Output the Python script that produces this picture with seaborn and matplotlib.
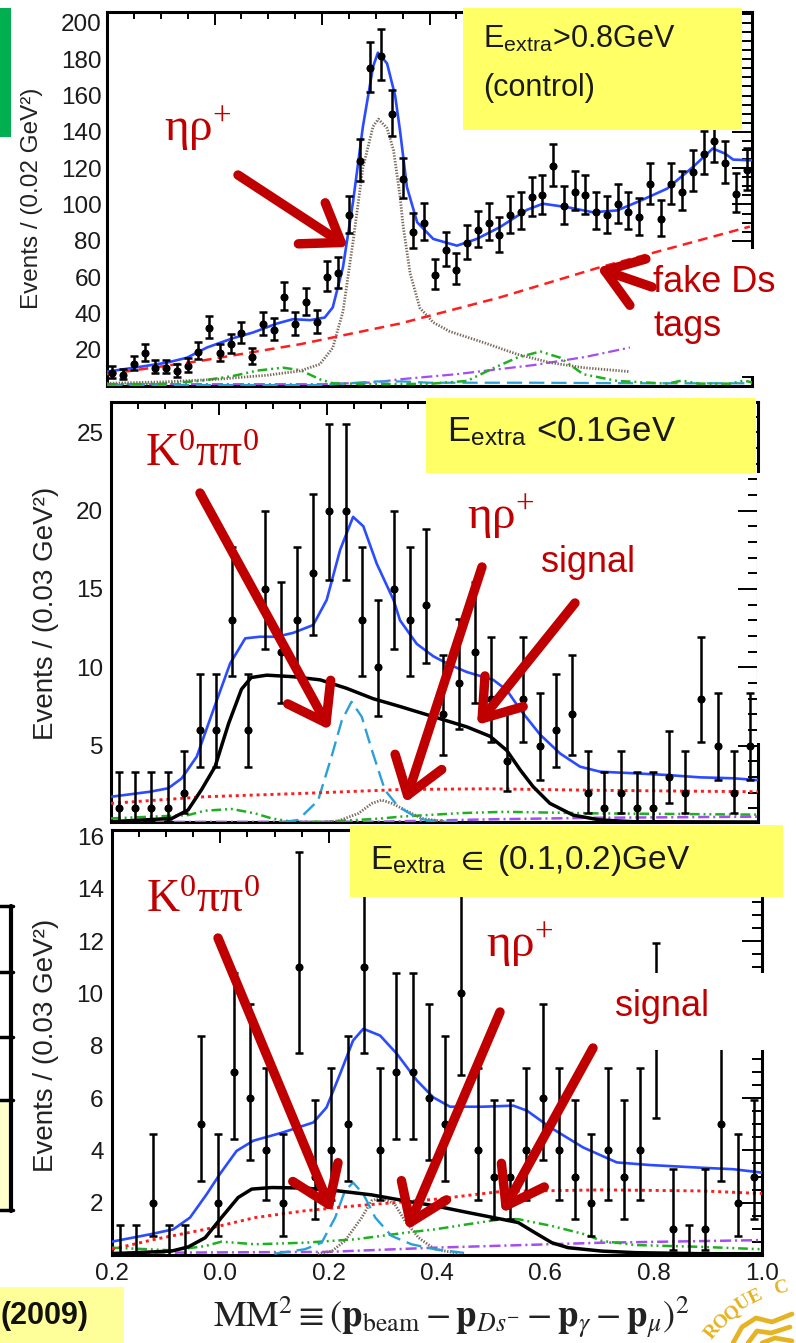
import math
import matplotlib
matplotlib.use("Agg")
import matplotlib.pyplot as plt
from matplotlib.patches import Rectangle, FancyArrowPatch
from matplotlib.lines import Line2D
from matplotlib.ticker import MultipleLocator, FixedLocator, FixedFormatter
import numpy as np
import seaborn as sns

W, H = 796, 1343
X_LO, X_HI = -0.2, 1.0

# ---------------------------------------------------------------- data
# E_extra > 0.8 GeV control sample, bins of 0.02 GeV^2
top_counts = [7, 6, 12, 18, 10, 10, 8, 11, 19, 32, 18, 23, 29, 16, 34, 31, 49, 34, 46, 35,
              60, 62, 94, 124, 175, 182, 150, 114, 85, 90, 61, 75, 64, 79, 86, 90, 83, 94,
              96, 104, 105, 121, 99, 107, 105, 96, 94, 100, 96, 93, 111, 92, 111, 107, 118,
              128, 135, 123, 106, 119]
top_bin = 0.02

# E_extra < 0.1 GeV, bins of 0.03 GeV^2
mid_counts = [1, 1, 1, 1, 2, 6, 6, 13, 6, 15, 11, 13, 16, 20, 20, 13, 10, 15, 13, 14,
              7, 9, 11, 8, 4, 8, 5, 6, 7, 2, 1, 2, 1, 1, 3, 2, 8, 5, 2, 5]
mid_bin = 0.03

# 0.1 < E_extra < 0.2 GeV, bins of 0.03 GeV^2
bot_counts = [0, 0, 2, 0, 0, 5, 2, 7, 6, 4, 2, 11, 3, 4, 5, 11, 4, 7, 7, 6,
              5, 10, 4, 3, 3, 4, 6, 4, 3, 2, 4, 3, 4, 8, 1, 0, 1, 5, 2, 3]
bot_bin = 0.03

# fit components, control sample
top_total_x = [-0.2, -0.14, -0.088, -0.051, -0.014, 0.034, 0.072, 0.116, 0.146, 0.178, 0.205,
               0.220, 0.239, 0.258, 0.276, 0.295, 0.304, 0.321, 0.336, 0.345, 0.358, 0.377,
               0.407, 0.451, 0.488, 0.531, 0.581, 0.611, 0.656, 0.704, 0.749, 0.792, 0.842,
               0.890, 0.927, 0.950, 0.965, 1.0]
top_total_y = [7.9, 10.5, 12.9, 15.6, 21.2, 26.3, 29.5, 34.4, 36.8, 36.3, 37.7,
               43.3, 65.4, 102, 142.7, 175.9, 183.6, 177.7, 160, 141, 109.6, 90.2,
               81, 77.3, 81, 87.5, 97, 100.4, 98.5, 95.7, 96.7, 102, 108.7,
               120.6, 130.8, 128, 124.7, 124.3]
top_etarho_x = [-0.2, -0.1, 0.005, 0.1, 0.159, 0.196, 0.22, 0.239, 0.258, 0.276, 0.295, 0.305,
                0.321, 0.333, 0.345, 0.351, 0.364, 0.382, 0.407, 0.438, 0.5, 0.563, 0.624,
                0.686, 0.773]
top_etarho_y = [1.5, 2.2, 3.7, 6.0, 8.3, 12, 21, 41, 80, 120, 143, 147,
                142, 130, 105, 88, 62, 43, 35, 30, 24, 17.5, 12.9,
                10.1, 7.9]
top_fake_x = [-0.2, -0.027, 0.159, 0.345, 0.531, 0.717, 0.996]
top_fake_y = [6.5, 13.8, 23, 34.4, 48.8, 65.4, 87.8]
top_other_x = [-0.2, -0.1, -0.027, 0.034, 0.08, 0.127, 0.16, 0.196, 0.22, 0.3, 0.4, 0.47,
               0.52, 0.563, 0.606, 0.643, 0.686, 0.749, 0.842, 0.87, 0.9, 0.96, 0.985, 1.0]
top_other_y = [1.0, 1.2, 2.8, 5.5, 8.5, 10.1, 8.7, 3.7, 1.5, 1.0, 1.2, 2.8,
               10, 15.6, 19, 15.6, 6.5, 2.8, 1.3, 3.0, 1.3, 1.3, 3.0, 2.0]
top_comb_x = [-0.2, 0.2, 0.3, 0.345, 0.45, 0.593, 0.69, 0.773]
top_comb_y = [1.0, 1.0, 2.0, 3.7, 6.5, 11.5, 16, 21.2]
top_k0_x = [-0.2, 0.2, 0.25, 0.3, 0.35, 0.4, 0.6, 0.8, 1.0]
top_k0_y = [0.5, 0.5, 1.5, 2.5, 2.5, 1.8, 1.8, 1.5, 1.5]

# fit components, E_extra < 0.1 GeV
mid_total_x = [-0.2, -0.128, -0.094, -0.069, -0.041, -0.010, 0.021, 0.049, 0.076, 0.107,
               0.138, 0.175, 0.200, 0.225, 0.249, 0.268, 0.293, 0.324, 0.336, 0.367, 0.398,
               0.429, 0.460, 0.509, 0.534, 0.559, 0.596, 0.633, 0.670, 0.707, 0.769, 0.831,
               0.892, 0.954, 1.0]
mid_total_y = [1.74, 2.06, 2.28, 2.91, 4.3, 7.3, 10.25, 11.85, 11.95, 11.95,
               12.2, 12.7, 14.3, 17.5, 19.6, 19.0, 16.6, 14.3, 13.0, 11.5, 10.7,
               10.15, 9.7, 9.2, 8.55, 7.3, 5.7, 4.5, 3.66, 3.34, 3.24, 3.13,
               2.98, 2.92, 2.8]
mid_signal_x = [-0.2, -0.087, -0.057, -0.032, -0.007, 0.018, 0.042, 0.06, 0.089, 0.138, 0.188,
                0.237, 0.286, 0.336, 0.398, 0.460, 0.503, 0.534, 0.559, 0.583, 0.614, 0.657,
                0.707, 0.768, 1.0]
mid_signal_y = [0.15, 0.36, 0.9, 2.2, 3.66, 6.4, 8.6, 9.35, 9.5, 9.4, 9.2,
                8.66, 8.0, 7.5, 6.85, 6.2, 5.6, 4.7, 3.45, 2.38, 1.32, 0.57,
                0.26, 0.15, 0.13]
mid_k0_x = [0.12, 0.147, 0.184, 0.209, 0.228, 0.246, 0.265, 0.284, 0.308, 0.333, 0.370, 0.401, 0.45]
mid_k0_y = [0.13, 0.26, 1.5, 4.3, 6.6, 7.8, 6.85, 4.7, 2.17, 1.1, 0.36, 0.15, 0.13]
mid_etarho_x = [0.2, 0.222, 0.259, 0.284, 0.302, 0.321, 0.345, 0.376, 0.42]
mid_etarho_y = [0.13, 0.2, 0.68, 1.32, 1.53, 1.32, 0.9, 0.36, 0.15]
mid_fake_x = [-0.2, -0.027, 0.159, 0.336, 0.5, 0.707, 1.0]
mid_fake_y = [1.32, 1.74, 1.96, 2.2, 2.25, 2.15, 2.06]
mid_other_x = [-0.2, -0.057, -0.026, 0.024, 0.067, 0.098, 0.135, 0.2, 0.3, 0.336, 0.45, 0.53, 0.7, 1.0]
mid_other_y = [0.36, 0.57, 0.85, 0.96, 0.68, 0.36, 0.15, 0.15, 0.35, 0.47, 0.7, 0.78, 0.68, 0.6]
mid_comb_x = [-0.2, 0.3, 0.5, 0.7, 1.0]
mid_comb_y = [0.13, 0.15, 0.3, 0.4, 0.47]

# fit components, 0.1 < E_extra < 0.2 GeV
bot_total_x = [-0.2, -0.130, -0.087, -0.056, -0.025, -0.001, 0.030, 0.061, 0.116, 0.172,
               0.196, 0.221, 0.245, 0.264, 0.295, 0.326, 0.363, 0.393, 0.424, 0.485, 0.541,
               0.566, 0.609, 0.670, 0.732, 0.793, 0.885, 0.947, 1.0]
bot_total_y = [0.51, 0.79, 0.98, 1.43, 2.33, 3.09, 3.98, 4.37, 4.69, 5.07,
               5.64, 6.92, 8.2, 8.65, 8.39, 7.69, 6.67, 6.03, 5.67, 5.67, 5.71,
               5.52, 4.88, 4.11, 3.54, 3.44, 3.34, 3.28, 3.15]
bot_signal_x = [-0.2, -0.090, -0.059, -0.028, 0.002, 0.033, 0.058, 0.095, 0.156, 0.218, 0.279,
                0.341, 0.396, 0.458, 0.519, 0.550, 0.581, 0.612, 0.642, 0.704, 0.766, 0.889, 1.0]
bot_signal_y = [0.05, 0.15, 0.31, 0.66, 1.43, 2.2, 2.52, 2.58, 2.56, 2.45, 2.3,
                2.07, 1.88, 1.62, 1.37, 1.24, 0.85, 0.47, 0.28, 0.15, 0.09, 0.05, 0.05]
bot_k0_x = [0.10, 0.156, 0.187, 0.212, 0.230, 0.245, 0.264, 0.286, 0.316, 0.353, 0.396, 0.45]
bot_k0_y = [0.05, 0.22, 0.47, 1.43, 2.45, 2.77, 2.33, 1.43, 0.73, 0.41, 0.22, 0.08]
bot_etarho_x = [0.18, 0.206, 0.230, 0.261, 0.279, 0.298, 0.322, 0.341, 0.366, 0.396, 0.44]
bot_etarho_y = [0.05, 0.15, 0.54, 1.43, 2.07, 2.2, 1.94, 1.3, 0.66, 0.22, 0.06]
bot_fake_x = [-0.2, -0.121, -0.028, 0.064, 0.156, 0.249, 0.396, 0.519, 0.704, 0.889, 1.0]
bot_fake_y = [0.22, 0.6, 0.98, 1.43, 1.69, 1.88, 2.13, 2.43, 2.49, 2.45, 2.35]
bot_other_x = [-0.2, -0.090, -0.028, 0.002, 0.064, 0.156, 0.249, 0.341, 0.396, 0.458, 0.519,
               0.550, 0.612, 0.673, 0.704, 0.766, 0.889, 1.0]
bot_other_y = [0.28, 0.18, 0.34, 0.51, 0.41, 0.47, 0.6, 0.85, 0.98, 1.18, 1.37,
               1.37, 1.11, 0.79, 0.54, 0.38, 0.31, 0.22]
bot_comb_x = [-0.2, 0.2, 0.396, 0.704, 1.0]
bot_comb_y = [0.08, 0.12, 0.28, 0.47, 0.57]

x_tick_values = [-0.2, 0.0, 0.2, 0.4, 0.6, 0.8, 1.0]
x_tick_text = ["0.2", "0.0", "0.2", "0.4", "0.6", "0.8", "1.0"]
top_y_ticks = [20, 40, 60, 80, 100, 120, 140, 160, 180, 200]
mid_y_ticks = [5, 10, 15, 20, 25]
bot_y_ticks = [2, 4, 6, 8, 10, 12, 14, 16]

# ---------------------------------------------------------------- style
sns.set_theme(style="white")
plt.rcParams["font.family"] = ["Liberation Sans", "DejaVu Sans"]
plt.rcParams["mathtext.fontset"] = "stix"
plt.rcParams["lines.scale_dashes"] = False
plt.rcParams["axes.unicode_minus"] = False

BLUE = "#2A4BFF"
RED_LINE = "#FF1E1E"
BROWN = "#7A6A5E"
GREEN = "#1FB01F"
PURPLE = "#A64DF0"
CYAN = "#2A9FD8"
ARROW = "#C00000"
YELLOW = "#FFFF66"
PALE = "#FFFF99"
GOLD = "#E6B422"
TEXT = "#1A1A1A"


def fx(px):
    return px / W


def fy(py):
    return 1 - py / H


def poisson_interval(n):
    """Central 68.3% Poisson interval (one-sided for an empty bin)."""
    if n == 0:
        return 0.0, 1.148
    a = 0.158655

    def cdf(k, mu):
        return sum(math.exp(-mu + i * math.log(mu) - math.lgamma(i + 1)) for i in range(k + 1))

    lo, hi = float(n), n + 10 * math.sqrt(n) + 10
    for _ in range(60):
        m = 0.5 * (lo + hi)
        if cdf(n, m) > a:
            lo = m
        else:
            hi = m
    upper = 0.5 * (lo + hi)
    lo, hi = 1e-9, float(n)
    for _ in range(60):
        m = 0.5 * (lo + hi)
        if cdf(n - 1, m) > 1 - a:
            lo = m
        else:
            hi = m
    lower = 0.5 * (lo + hi)
    return lower, upper


def draw_counts(ax, counts, width):
    n = np.array(counts, dtype=float)
    centers = X_LO + width * (np.arange(len(n)) + 0.5)
    bounds = np.array([poisson_interval(int(k)) for k in counts])
    err = np.vstack([n - bounds[:, 0], bounds[:, 1] - n])
    ax.errorbar(centers, n, yerr=err, fmt="none", ecolor="black", elinewidth=1.8,
                capsize=2.8, capthick=1.8, zorder=4)
    keep = n > 0
    sns.scatterplot(x=centers[keep], y=n[keep], color="black", s=34, linewidth=0,
                    zorder=5, ax=ax, legend=False)


def curve(ax, xs, ys, color, lw, ls="-", z=3):
    sns.lineplot(x=xs, y=ys, color=color, lw=lw, linestyle=ls, estimator=None,
                 sort=False, ax=ax, zorder=z, legend=False)


DASH = (0, (7, 4.5))
DOT = (0, (2.2, 2.8))
FINE = (0, (1.0, 1.1))
DDD = (0, (7, 2.8, 1.4, 2.8, 1.4, 2.8))
DASHDOT = (0, (8, 2.8, 1.5, 2.8))
LONG = (0, (11, 5))


def frame(ax, ylim, yticks, yminor, ylabelpad):
    ax.set_facecolor("white")
    ax.set_xlim(X_LO, X_HI)
    ax.set_ylim(*ylim)
    ax.xaxis.set_major_locator(FixedLocator(x_tick_values))
    ax.xaxis.set_major_formatter(FixedFormatter(x_tick_text))
    ax.xaxis.set_minor_locator(MultipleLocator(0.05))
    ax.yaxis.set_major_locator(FixedLocator(yticks))
    ax.yaxis.set_major_formatter(FixedFormatter([str(v) for v in yticks]))
    ax.yaxis.set_minor_locator(MultipleLocator(yminor))
    ax.tick_params(axis="both", which="both", direction="in", top=True, right=True,
                   width=1.4, color="black", labelsize=17.5, labelcolor=TEXT)
    ax.tick_params(axis="x", which="major", length=9.5, pad=6)
    ax.tick_params(axis="x", which="minor", length=5)
    ax.tick_params(axis="y", which="major", length=14.5, pad=ylabelpad)
    ax.tick_params(axis="y", which="minor", length=7.5)
    for s in ax.spines.values():
        s.set_visible(True)
        s.set_linewidth(2.2)
        s.set_color("black")
    ax.set_xlabel("")
    ax.set_ylabel("")


fig = plt.figure(figsize=(W / 100, H / 100), dpi=100)
fig.patch.set_facecolor("white")

ax_top = fig.add_axes([fx(107), fy(386), 645 / W, 374 / H])
ax_mid = fig.add_axes([fx(111), fy(822), 647 / W, 420 / H])
ax_bot = fig.add_axes([fx(112), fy(1255), 650 / W, 425 / H])

# ---- control sample
ax = ax_top
curve(ax, top_comb_x, top_comb_y, PURPLE, 1.6, DASHDOT)
curve(ax, top_k0_x, top_k0_y, CYAN, 1.6, LONG)
curve(ax, top_other_x, top_other_y, GREEN, 1.8, DDD)
curve(ax, top_etarho_x, top_etarho_y, BROWN, 2.0, FINE)
curve(ax, top_fake_x, top_fake_y, RED_LINE, 1.8, DASH, z=3.2)
curve(ax, top_total_x, top_total_y, BLUE, 1.9)
draw_counts(ax, top_counts, top_bin)
frame(ax, (0, 206), top_y_ticks, 5, 4)
# the panel below sits right on this frame's x scale
ax.tick_params(axis="x", labelbottom=False)
ax.add_patch(Rectangle((0.773, 5.5), 0.32, 70.2, facecolor="white", edgecolor="none",
                       clip_on=False, zorder=2.9))

# ---- E_extra < 0.1 GeV
ax = ax_mid
curve(ax, mid_comb_x, mid_comb_y, PURPLE, 1.8, DASHDOT)
curve(ax, mid_other_x, mid_other_y, GREEN, 1.8, DDD)
curve(ax, mid_etarho_x, mid_etarho_y, BROWN, 2.0, FINE)
curve(ax, mid_k0_x, mid_k0_y, CYAN, 1.7, LONG)
curve(ax, mid_fake_x, mid_fake_y, RED_LINE, 2.1, DOT)
curve(ax, mid_signal_x, mid_signal_y, "black", 2.5)
curve(ax, mid_total_x, mid_total_y, BLUE, 1.9)
draw_counts(ax, mid_counts, mid_bin)
frame(ax, (0.13, 26.93), mid_y_ticks, 1, 5.5)
ax.tick_params(axis="x", labelbottom=False)

# ---- 0.1 < E_extra < 0.2 GeV
ax = ax_bot
curve(ax, bot_comb_x, bot_comb_y, PURPLE, 1.8, DASHDOT)
curve(ax, bot_other_x, bot_other_y, GREEN, 1.8, DDD)
curve(ax, bot_etarho_x, bot_etarho_y, BROWN, 2.0, FINE)
curve(ax, bot_k0_x, bot_k0_y, CYAN, 1.7, LONG)
curve(ax, bot_fake_x, bot_fake_y, RED_LINE, 2.1, DOT)
curve(ax, bot_signal_x, bot_signal_y, "black", 2.5)
curve(ax, bot_total_x, bot_total_y, BLUE, 1.9)
draw_counts(ax, bot_counts, bot_bin)
frame(ax, (0, 16.25), bot_y_ticks, 0.5, 6)

# ---- axis titles
fig.text(fx(32), fy(198), "Events / (0.02 GeV²)", rotation=90, ha="center", va="center",
         fontsize=17.5, color="#222222")
fig.text(fx(46), fy(613), "Events / (0.03 GeV²)", rotation=90, ha="center", va="center",
         fontsize=20, color="#222222")
fig.text(fx(46), fy(1045), "Events / (0.03 GeV²)", rotation=90, ha="center", va="center",
         fontsize=20, color="#222222")
fig.text(fx(213), fy(1328),
         r"$\mathrm{MM}^{2} \equiv (\mathbf{p}_{\mathrm{beam}} - \mathbf{p}_{Ds^{-}} - "
         r"\mathbf{p}_{\gamma} - \mathbf{p}_{\mu})^{2}$",
         ha="left", va="baseline", fontsize=26.5, color="#222222")


# ---- overlay boxes and annotations
def box(x0, y0, x1, y1, color, z=6):
    fig.add_artist(Rectangle((fx(x0), fy(y1)), (x1 - x0) / W, (y1 - y0) / H,
                             transform=fig.transFigure, facecolor=color, edgecolor="none",
                             zorder=z))


def arrow(tail, tip):
    fig.add_artist(FancyArrowPatch((fx(tail[0]), fy(tail[1])), (fx(tip[0]), fy(tip[1])),
                                   transform=fig.transFigure,
                                   arrowstyle="->,head_length=0.6,head_width=0.42",
                                   mutation_scale=42, lw=6.8, color=ARROW,
                                   shrinkA=0, shrinkB=0, zorder=9))


def label(px, py, s, size, serif=False, **kw):
    fam = ["Liberation Serif", "DejaVu Serif"] if serif else ["Liberation Sans", "DejaVu Sans"]
    fig.text(fx(px), fy(py), s, fontsize=size, family=fam, zorder=10, **kw)


# white backings that hide parts of the frames
box(756.5, 473, 796, 743, "white", z=5)
box(605, 973, 796, 1050, "white", z=5)

# yellow selection labels
box(463, 8, 742, 130, YELLOW)
label(483, 40, r"E$_{\mathregular{extra}}$>0.8GeV", 22, va="center", color=TEXT)
label(483, 88, "(control)", 22, va="center", color=TEXT)
box(426, 398, 756, 473, YELLOW)
label(447, 432, r"E$_{\mathregular{extra}}$ <0.1GeV", 25, va="center", color=TEXT)
box(350, 825, 783, 897, YELLOW)
label(370, 860, r"E$_{\mathregular{extra}}$ $\in$ (0.1,0.2)GeV", 24, va="center", color=TEXT)

# red annotations
label(198, 130, r"$\mathregular{ηρ^{+}}$", 34, serif=True, color=ARROW, ha="center", va="center")
arrow((238, 175), (348, 247))
label(653, 283, "fake Ds", 26, color=ARROW, va="center")
label(653, 326, "tags", 26, color=ARROW, va="center")
arrow((652, 287), (597, 268))

label(202, 455, r"$\mathregular{K^{0}ππ^{0}}$", 33, serif=True, color=ARROW, ha="center", va="center")
arrow((200, 493), (330, 730))
label(501, 518, r"$\mathregular{ηρ^{+}}$", 34, serif=True, color=ARROW, ha="center", va="center")
arrow((482, 567), (405, 803))
label(588, 563, "signal", 26, color=ARROW, ha="center", va="center")
arrow((575, 603), (477, 725))

label(203, 901, r"$\mathregular{K^{0}ππ^{0}}$", 33, serif=True, color=ARROW, ha="center", va="center")
arrow((218, 938), (332, 1212))
label(520, 946, r"$\mathregular{ηρ^{+}}$", 34, serif=True, color=ARROW, ha="center", va="center")
arrow((500, 1012), (407, 1230))
label(662, 1006, "signal", 26, color=ARROW, ha="center", va="center")
arrow((593, 1048), (502, 1213))

# side strip, table edge and reference tag
box(0, 8, 11, 137, "#00B050")
box(0, 1100, 11, 1210, "#FFFFCC")
for yy in (906, 972, 1037, 1100, 1210):
    fig.add_artist(Line2D([0, fx(13)], [fy(yy), fy(yy)], transform=fig.transFigure,
                          color="black", lw=2.5, zorder=7))
fig.add_artist(Line2D([fx(11), fx(11)], [fy(906), fy(1211)], transform=fig.transFigure,
                      color="black", lw=3, zorder=7))
box(0, 1287, 124, 1343, PALE)
label(1, 1316, "(2009)", 22, fontweight="bold", va="center", color="#111111")

# conference emblem in the corner
for i, ch in enumerate("ROQUE C"):
    if ch == " ":
        continue
    th = math.radians(141 - i * 6.2)
    px = 812 + 128 * math.cos(th)
    py = 1412 - 128 * math.sin(th)
    fig.text(fx(px), fy(py), ch, rotation=math.degrees(th) - 90, color=GOLD, fontsize=14,
             fontweight="bold", family=["Liberation Serif"], ha="center", va="center", zorder=10)
for pts in ([(733, 1343), (742, 1327), (756, 1318), (772, 1322), (792, 1314)],
            [(748, 1343), (757, 1331), (771, 1333), (790, 1327)],
            [(762, 1343), (775, 1338), (792, 1341)]):
    xs = [fx(p[0]) for p in pts]
    ys = [fy(p[1]) for p in pts]
    fig.add_artist(Line2D(xs, ys, transform=fig.transFigure, color=GOLD, lw=3.4,
                          solid_capstyle="round", zorder=10))

fig.savefig("out.png", dpi=100)
